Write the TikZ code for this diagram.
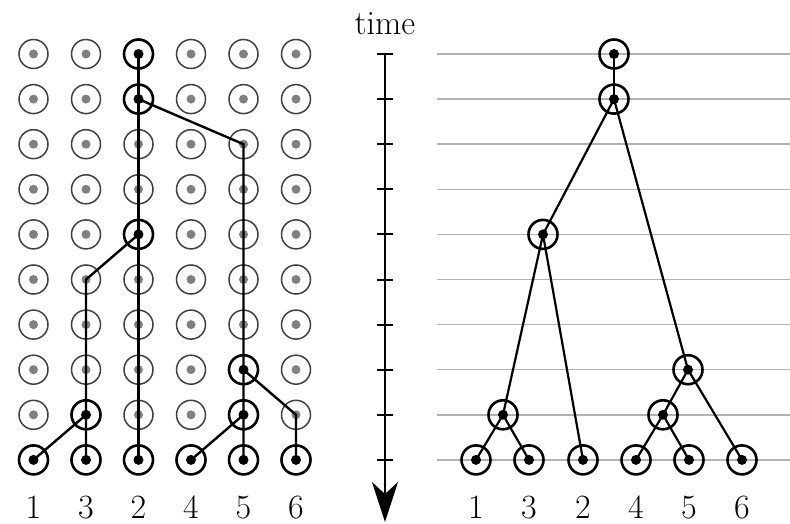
\documentclass[tikz,border=0pt]{standalone}
\usetikzlibrary{arrows.meta}
\begin{document}
\begin{tikzpicture}[x=1pt,y=-1pt,
  every node/.style={inner sep=0pt,outer sep=0pt},
  faintring/.style={circle,draw=black!75,line width=1.5pt,minimum size=29pt},
  boldring/.style={circle,draw=black,line width=2.6pt,minimum size=29pt},
  faintdot/.style={fill=black!50},
  bolddot/.style={fill=black},
  lineage/.style={draw=black,line width=2.4pt},
  treeedge/.style={draw=black,line width=2.2pt},
  gridline/.style={draw=black!30,line width=1.4pt},
  lab/.style={anchor=base,font=\fontsize{34}{40}\selectfont},
  tick/.style={draw=black,line width=2pt}
]
\useasboundingbox (0,0) rectangle (790,524);
% ---------- left: grid of individuals ----------
\foreach \r in {1,...,10}{
  \foreach \c in {1,...,6}{
    \node[faintring] (L\r-\c) at ({33.5+52.5*(\c-1)},{54+45.1*(\r-1)}) {};
    \fill[faintdot] (L\r-\c.center) circle (4.5pt);
  }
}
% lineages
\draw[lineage] (L1-3.center) -- (L10-3.center);
\draw[lineage] (L2-3.center) -- (L3-5.center) -- (L10-5.center);
\draw[lineage] (L5-3.center) -- (L6-2.center) -- (L10-2.center);
\draw[lineage] (L9-2.center) -- (L10-1.center);
\draw[lineage] (L8-5.center) -- (L9-6.center) -- (L10-6.center);
\draw[lineage] (L9-5.center) -- (L10-4.center);
% highlighted ancestors
\foreach \n in {L1-3,L2-3,L5-3,L8-5,L9-2,L9-5,L10-1,L10-2,L10-3,L10-4,L10-5,L10-6}{
  \node[boldring] at (\n.center) {};
  \fill[bolddot] (\n.center) circle (5pt);
}
% labels
\foreach \c/\t in {1/1,2/3,3/2,4/4,5/5,6/6}{
  \node[lab] (LL\c) at ({33.5+52.5*(\c-1)},518) {\t};
}
% ---------- time axis ----------
\node[lab] (time) at (385,35) {time};
\coordinate (ttop) at (385,54);
\coordinate (tbot) at (385,522);
\draw[line width=2.4pt,-{Stealth[length=40pt,width=26pt,inset=12pt]}] (ttop) -- (tbot);
\foreach \r in {1,...,10}{
  \coordinate (tl\r) at (377,{54+45.1*(\r-1)});
  \coordinate (tr\r) at (393,{54+45.1*(\r-1)});
  \draw[tick] (tl\r) -- (tr\r);
}
% ---------- right: genealogy ----------
\foreach \r in {1,...,10}{
  \coordinate (gl\r) at (437,{54+45.1*(\r-1)});
  \coordinate (gr\r) at (790,{54+45.1*(\r-1)});
  \draw[gridline] (gl\r) -- (gr\r);
}
\node[boldring] (R1) at (476,459.9) {};
\node[boldring] (R3) at (529,459.9) {};
\node[boldring] (R2) at (583,459.9) {};
\node[boldring] (R4) at (636,459.9) {};
\node[boldring] (R5) at (689,459.9) {};
\node[boldring] (R6) at (742,459.9) {};
\node[boldring] (N13) at (503,414.8) {};
\node[boldring] (N45) at (663,414.8) {};
\node[boldring] (N456) at (688,369.7) {};
\node[boldring] (N132) at (543,234.4) {};
\node[boldring] (root) at (614,99.1) {};
\node[boldring] (top) at (614,54) {};
\draw[treeedge] (R1.center) -- (N13.center) -- (R3.center);
\draw[treeedge] (N13.center) -- (N132.center) -- (R2.center);
\draw[treeedge] (R4.center) -- (N45.center) -- (R5.center);
\draw[treeedge] (N45.center) -- (N456.center) -- (R6.center);
\draw[treeedge] (N132.center) -- (root.center) -- (N456.center);
\draw[treeedge] (root.center) -- (top.center);
\foreach \n in {R1,R2,R3,R4,R5,R6,N13,N45,N456,N132,root,top}{
  \fill[bolddot] (\n.center) circle (5pt);
}
\node[lab] (RL1) at (476,518) {1};
\node[lab] (RL3) at (529,518) {3};
\node[lab] (RL2) at (583,518) {2};
\node[lab] (RL4) at (636,518) {4};
\node[lab] (RL5) at (689,518) {5};
\node[lab] (RL6) at (742,518) {6};
\end{tikzpicture}
\end{document}
